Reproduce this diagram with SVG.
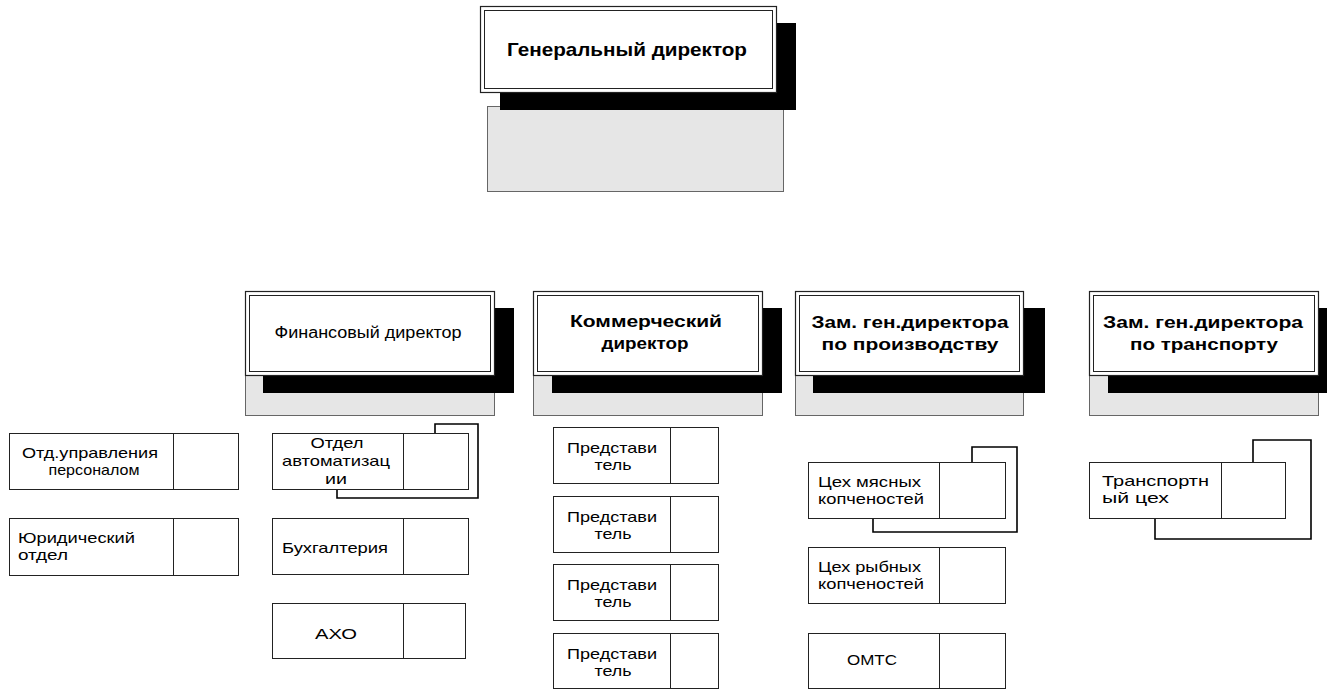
<svg xmlns="http://www.w3.org/2000/svg" width="1327" height="689" viewBox="0 0 1327 689">
<style>
  .gray{fill:#e6e6e6;stroke:#666;stroke-width:1}
  .shadow{fill:#000;stroke:none}
  .outer{fill:#fff;stroke:#222;stroke-width:1.2}
  .inner{fill:none;stroke:#222;stroke-width:1}
  .box{fill:#fff;stroke:#222;stroke-width:1}
  .div{stroke:#222;stroke-width:1}
  .loop{fill:none;stroke:#000;stroke-width:1.6}
  text{font-family:"Liberation Sans",Arial,sans-serif;fill:#000}
  .hb{font-weight:bold;font-size:18.5px;text-anchor:middle}
  .db{font-weight:bold;font-size:17px;text-anchor:middle}
  .dn{font-size:16px;text-anchor:middle}
  .s{font-size:15px}
  .c{text-anchor:middle}
</style>
<rect width="1327" height="689" fill="#fff"/>

<g id="gen-director">
  <rect class="gray" x="487.5" y="106.5" width="296" height="85"/>
  <rect class="shadow" x="500" y="23" width="296" height="87"/>
  <rect class="outer" x="480.5" y="6.5" width="296" height="86"/>
  <rect class="inner" x="484.5" y="10.5" width="288" height="78"/>
  <text class="hb" x="627" y="55.5" textLength="240" lengthAdjust="spacingAndGlyphs">Генеральный директор</text>
</g>

<g id="fin-director">
  <rect class="gray" x="245.5" y="370.5" width="249" height="45"/>
  <rect class="shadow" x="263" y="308" width="251" height="85"/>
  <rect class="outer" x="245.5" y="291.5" width="249" height="84"/>
  <rect class="inner" x="249.5" y="295.5" width="241" height="76"/>
  <text class="dn" x="368" y="338" textLength="187" lengthAdjust="spacingAndGlyphs">Финансовый директор</text>
</g>

<g id="com-director">
  <rect class="gray" x="533.5" y="370.5" width="229" height="45"/>
  <rect class="shadow" x="552" y="308" width="230" height="85"/>
  <rect class="outer" x="533.5" y="291.5" width="229" height="84"/>
  <rect class="inner" x="537.5" y="295.5" width="221" height="76"/>
  <text class="db" x="646" y="327" textLength="152" lengthAdjust="spacingAndGlyphs">Коммерческий</text>
  <text class="db" x="645" y="349" textLength="87" lengthAdjust="spacingAndGlyphs">директор</text>
</g>

<g id="prod-director">
  <rect class="gray" x="795.5" y="370.5" width="228" height="45"/>
  <rect class="shadow" x="813" y="308" width="232" height="85"/>
  <rect class="outer" x="795.5" y="291.5" width="228" height="84"/>
  <rect class="inner" x="799.5" y="295.5" width="220" height="76"/>
  <text class="db" x="910" y="327.5" textLength="197" lengthAdjust="spacingAndGlyphs">Зам. ген.директора</text>
  <text class="db" x="910" y="350" textLength="177" lengthAdjust="spacingAndGlyphs">по производству</text>
</g>

<g id="trans-director">
  <rect class="gray" x="1089.5" y="370.5" width="229" height="45"/>
  <rect class="shadow" x="1108" y="308" width="230" height="85"/>
  <rect class="outer" x="1089.5" y="291.5" width="229" height="84"/>
  <rect class="inner" x="1093.5" y="295.5" width="221" height="76"/>
  <text class="db" x="1203" y="327.5" textLength="200" lengthAdjust="spacingAndGlyphs">Зам. ген.директора</text>
  <text class="db" x="1204" y="350" textLength="148" lengthAdjust="spacingAndGlyphs">по транспорту</text>
</g>

<g id="connectors">
  <path class="loop" d="M337,489 V498 H478 V424 H435 V433"/>
  <path class="loop" d="M873,518 V532 H1017 V447 H972 V462"/>
  <path class="loop" d="M1155,518 V539 H1311 V440 H1253 V462"/>
</g>

<g id="hr-dept">
  <rect class="box" x="9.5" y="433.5" width="229" height="56"/>
  <line class="div" x1="173.5" y1="433.5" x2="173.5" y2="489.5"/>
  <text class="s c" x="90" y="457.5" textLength="136" lengthAdjust="spacingAndGlyphs">Отд.управления</text>
  <text class="s c" x="94" y="474.5" textLength="91" lengthAdjust="spacingAndGlyphs">персоналом</text>
</g>

<g id="legal-dept">
  <rect class="box" x="9.5" y="518.5" width="229" height="57"/>
  <line class="div" x1="173.5" y1="518.5" x2="173.5" y2="575.5"/>
  <text class="s" x="18" y="543" textLength="117" lengthAdjust="spacingAndGlyphs">Юридический</text>
  <text class="s" x="18" y="559.5" textLength="50" lengthAdjust="spacingAndGlyphs">отдел</text>
</g>

<g id="automation-dept">
  <rect class="box" x="272.5" y="433.5" width="196" height="56"/>
  <line class="div" x1="403.5" y1="433.5" x2="403.5" y2="489.5"/>
  <text class="s c" x="337" y="448" textLength="53" lengthAdjust="spacingAndGlyphs">Отдел</text>
  <text class="s c" x="336" y="466" textLength="108" lengthAdjust="spacingAndGlyphs">автоматизац</text>
  <text class="s c" x="336" y="484" textLength="22" lengthAdjust="spacingAndGlyphs">ии</text>
</g>

<g id="accounting">
  <rect class="box" x="272.5" y="518.5" width="196" height="56"/>
  <line class="div" x1="403.5" y1="518.5" x2="403.5" y2="574.5"/>
  <text class="s c" x="335" y="552.5" textLength="106" lengthAdjust="spacingAndGlyphs">Бухгалтерия</text>
</g>

<g id="axo">
  <rect class="box" x="272.5" y="603.5" width="193" height="55"/>
  <line class="div" x1="403.5" y1="603.5" x2="403.5" y2="658.5"/>
  <text class="s c" x="336" y="638.5" textLength="42" lengthAdjust="spacingAndGlyphs">АХО</text>
</g>

<g id="rep-1">
  <rect class="box" x="553.5" y="427.5" width="165" height="56"/>
  <line class="div" x1="670.5" y1="427.5" x2="670.5" y2="483.5"/>
  <text class="s c" x="612" y="453" textLength="90" lengthAdjust="spacingAndGlyphs">Представи</text>
  <text class="s c" x="613" y="470" textLength="37" lengthAdjust="spacingAndGlyphs">тель</text>
</g>

<g id="rep-2">
  <rect class="box" x="553.5" y="496.5" width="165" height="56"/>
  <line class="div" x1="670.5" y1="496.5" x2="670.5" y2="552.5"/>
  <text class="s c" x="612" y="522" textLength="90" lengthAdjust="spacingAndGlyphs">Представи</text>
  <text class="s c" x="613" y="539" textLength="37" lengthAdjust="spacingAndGlyphs">тель</text>
</g>

<g id="rep-3">
  <rect class="box" x="553.5" y="564.5" width="165" height="56"/>
  <line class="div" x1="670.5" y1="564.5" x2="670.5" y2="620.5"/>
  <text class="s c" x="612" y="590" textLength="90" lengthAdjust="spacingAndGlyphs">Представи</text>
  <text class="s c" x="613" y="607" textLength="37" lengthAdjust="spacingAndGlyphs">тель</text>
</g>

<g id="rep-4">
  <rect class="box" x="553.5" y="633.5" width="165" height="55"/>
  <line class="div" x1="670.5" y1="633.5" x2="670.5" y2="688.5"/>
  <text class="s c" x="612" y="659" textLength="90" lengthAdjust="spacingAndGlyphs">Представи</text>
  <text class="s c" x="613" y="676" textLength="37" lengthAdjust="spacingAndGlyphs">тель</text>
</g>

<g id="meat-shop">
  <rect class="box" x="808.5" y="462.5" width="197" height="56"/>
  <line class="div" x1="939.5" y1="462.5" x2="939.5" y2="518.5"/>
  <text class="s" x="818" y="487" textLength="103" lengthAdjust="spacingAndGlyphs">Цех мясных</text>
  <text class="s" x="818" y="504" textLength="106" lengthAdjust="spacingAndGlyphs">копченостей</text>
</g>

<g id="fish-shop">
  <rect class="box" x="808.5" y="547.5" width="197" height="56"/>
  <line class="div" x1="939.5" y1="547.5" x2="939.5" y2="603.5"/>
  <text class="s" x="818" y="571.5" textLength="103" lengthAdjust="spacingAndGlyphs">Цех рыбных</text>
  <text class="s" x="818" y="588.5" textLength="106" lengthAdjust="spacingAndGlyphs">копченостей</text>
</g>

<g id="omts">
  <rect class="box" x="808.5" y="633.5" width="197" height="55"/>
  <line class="div" x1="939.5" y1="633.5" x2="939.5" y2="688.5"/>
  <text class="s c" x="872" y="665" textLength="50" lengthAdjust="spacingAndGlyphs">ОМТС</text>
</g>

<g id="transport-shop">
  <rect class="box" x="1089.5" y="462.5" width="196" height="56"/>
  <line class="div" x1="1221.5" y1="462.5" x2="1221.5" y2="518.5"/>
  <text class="s" x="1102" y="485.5" textLength="107" lengthAdjust="spacingAndGlyphs">Транспортн</text>
  <text class="s" x="1102" y="503" textLength="67" lengthAdjust="spacingAndGlyphs">ый цех</text>
</g>
</svg>
